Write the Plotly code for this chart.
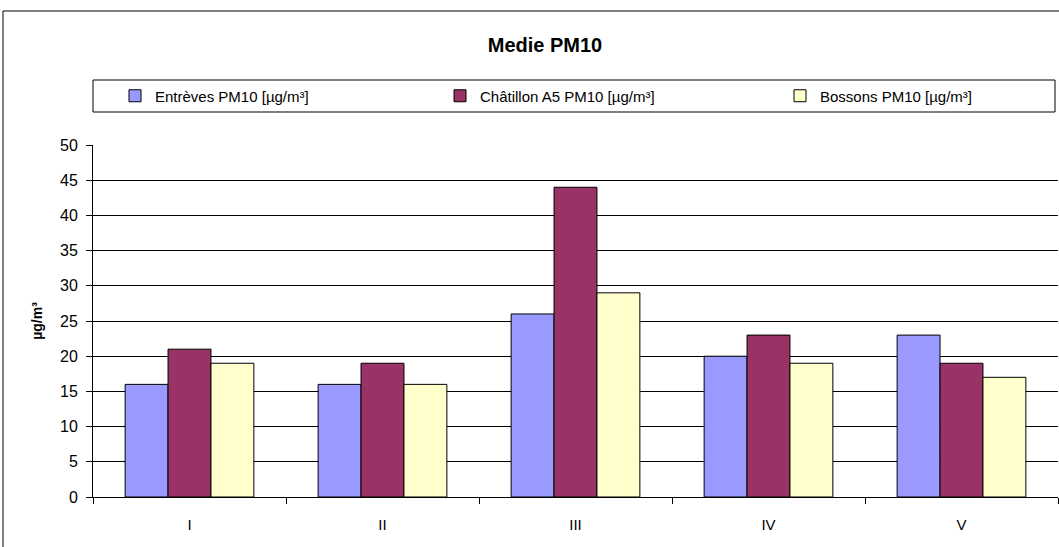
import plotly.graph_objects as go

categories = ["I", "II", "III", "IV", "V"]
entreves = [16, 16, 26, 20, 23]
chatillon = [21, 19, 44, 23, 19]
bossons = [19, 16, 29, 19, 17]
series_names = ["Entrèves PM10 [µg/m³]", "Châtillon A5 PM10 [µg/m³]", "Bossons PM10 [µg/m³]"]
colors = ["#9999FF", "#993366", "#FFFFCC"]

W, H = 1059, 547
L, R, T, B = 93, 1058, 145, 497  # plot area pixel bounds

def px_x(p):
    return (p - L) / (R - L)

def px_y(p):
    return (B - p) / (B - T)

legend_ids = ["legend", "legend2", "legend3"]
legend_px = [115, 440, 780]

fig = go.Figure()
for name, vals, col, lid in zip(series_names, [entreves, chatillon, bossons], colors, legend_ids):
    fig.add_trace(go.Bar(x=categories, y=vals, name=name, legend=lid,
                         marker=dict(color=col, line=dict(color="black", width=1))))

font = "Liberation Sans, Arial, sans-serif"
legend_common = dict(orientation="h", xanchor="left", y=px_y(96), yanchor="middle",
                     bgcolor="rgba(0,0,0,0)", borderwidth=0, font=dict(size=15))

fig.update_layout(
    width=W, height=H,
    margin=dict(l=L, r=W - R, t=T, b=H - B, pad=0),
    paper_bgcolor="white", plot_bgcolor="white",
    barmode="group", bargap=0.333, bargroupgap=0,
    font=dict(family=font, color="black", size=14),
    title=dict(text="<b>Medie PM10</b>", x=px_x(545), xref="paper", xanchor="center",
               y=1 - 45 / H, yanchor="middle", font=dict(size=20)),
    showlegend=True,
    xaxis=dict(type="category", tickson="boundaries", ticks="outside", ticklen=6,
               tickcolor="black", showline=True, linecolor="black", linewidth=1,
               showgrid=False, tickfont=dict(size=15), ticklabelstandoff=14,
               range=[-0.5, 4.5]),
    yaxis=dict(range=[0, 50], dtick=5, ticks="outside", ticklen=6, tickcolor="black",
               showline=True, linecolor="black", linewidth=1, showgrid=True,
               gridcolor="black", gridwidth=1, zeroline=False, tickfont=dict(size=16),
               ticklabelstandoff=5,
               title=dict(text="<b>µg/m³</b>", font=dict(size=14), standoff=14)),
    shapes=[
        dict(type="rect", xref="paper", yref="paper", x0=px_x(3), x1=px_x(1100),
             y0=px_y(560), y1=px_y(11), line=dict(color="black", width=1), fillcolor="rgba(0,0,0,0)", layer="below"),
        dict(type="rect", xref="paper", yref="paper", x0=px_x(93), x1=px_x(1055),
             y0=px_y(112), y1=px_y(80), line=dict(color="black", width=1), fillcolor="rgba(0,0,0,0)", layer="below"),
    ],
)
for lid, lx in zip(legend_ids, legend_px):
    fig.update_layout({lid: dict(legend_common, x=px_x(lx))})

fig.write_html("out.html", config={"displayModeBar": False},
               post_script="document.body.style.margin='0';")
